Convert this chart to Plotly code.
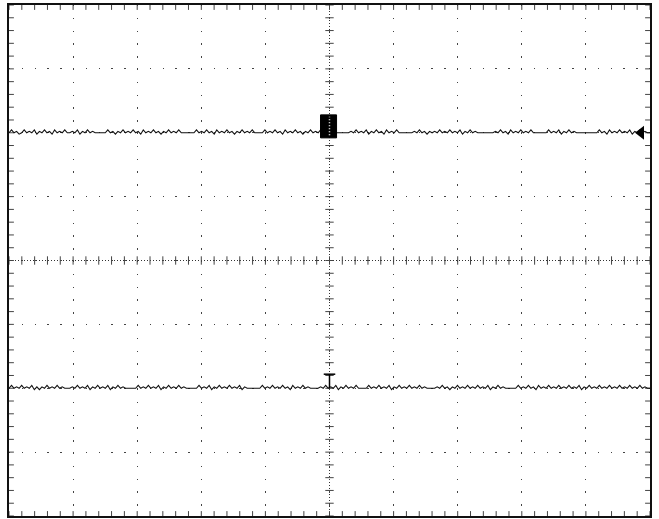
import numpy as np
import plotly.graph_objects as go

# Screen: 10 horizontal divisions, 8 vertical divisions
X_DIVS = 10
Y_DIVS = 8
MINOR = 0.2

# Channel levels (divisions)
ch1_level = 2.0
ch2_level = -2.0
LSB = 0.022  # one noise step in divisions

# Noise, one char per sample: 0=-1, 1=base, 2=+1, 3=+2 steps
ch1_noise = (
    "1312013121302131203121311213021312111113120213121312031213"
    "1202131213111111312131203121312021312131111312131203121312"
    "0213121311111111111213121302131203121311111121312021213121"
    "3121302131211111112131203121312131111113121302131211111111"
    "1312031213121302131211"
)
ch2_noise = (
    "1312131213020213121312111213121302131213021312111113121312"
    "1302131213121111131213021312131213021111113121312131203121"
    "3121111213121302131213111131213121302131213121312111121312"
    "0213121312131213021312111113121312031213121312131213021312"
    "1312131213121312131211"
)

ch1 = [ch1_level + (int(c) - 1) * LSB for c in ch1_noise]
ch2 = [ch2_level + (int(c) - 1) * LSB for c in ch2_noise]
t1 = np.linspace(0, X_DIVS, len(ch1))
t2 = np.linspace(0, X_DIVS, len(ch2))

fig = go.Figure()

# graticule minor ticks: center cross and border
cx = X_DIVS / 2
tick_x = np.arange(0, X_DIVS + 1e-9, MINOR)
tick_y = np.arange(-Y_DIVS / 2, Y_DIVS / 2 + 1e-9, MINOR)
tick_style = dict(width=1, color="#444")
fig.add_trace(go.Scatter(x=tick_x, y=np.zeros_like(tick_x), mode="markers",
                         marker=dict(symbol="line-ns", size=6, line=tick_style),
                         hoverinfo="skip", showlegend=False))
fig.add_trace(go.Scatter(x=np.full_like(tick_y, cx), y=tick_y, mode="markers",
                         marker=dict(symbol="line-ew", size=6, line=tick_style),
                         hoverinfo="skip", showlegend=False))
for yb in (-Y_DIVS / 2, Y_DIVS / 2):
    fig.add_trace(go.Scatter(x=tick_x, y=np.full_like(tick_x, yb), mode="markers",
                             marker=dict(symbol="line-ns", size=7, line=tick_style),
                             hoverinfo="skip", showlegend=False, cliponaxis=True))
for xb in (0, X_DIVS):
    fig.add_trace(go.Scatter(x=np.full_like(tick_y, xb), y=tick_y, mode="markers",
                             marker=dict(symbol="line-ew", size=7, line=tick_style),
                             hoverinfo="skip", showlegend=False, cliponaxis=True))

fig.add_trace(go.Scatter(x=t1, y=ch1, mode="lines", line=dict(color="#111", width=1.1),
                         showlegend=False, hoverinfo="skip"))
fig.add_trace(go.Scatter(x=t2, y=ch2, mode="lines", line=dict(color="#111", width=1.1),
                         showlegend=False, hoverinfo="skip"))

# channel 1 level arrow on right edge
fig.add_trace(go.Scatter(x=[9.86], y=[ch1_level], mode="markers",
                         marker=dict(symbol="triangle-left", size=12, color="black"),
                         showlegend=False, hoverinfo="skip"))

shapes = [
    # dotted center lines
    dict(type="line", x0=cx, x1=cx, y0=-Y_DIVS / 2, y1=Y_DIVS / 2,
         line=dict(color="#333", width=1, dash="1px,2px"), layer="below"),
    dict(type="line", x0=0, x1=X_DIVS, y0=0, y1=0,
         line=dict(color="#333", width=1, dash="1px,2px"), layer="below"),
    # trigger-position box on ch1
    dict(type="rect", x0=4.86, x1=5.11, y0=1.92, y1=2.28,
         fillcolor="black", line=dict(color="black", width=1)),
    dict(type="line", x0=cx, x1=cx, y0=1.96, y1=2.25,
         line=dict(color="white", width=1.5, dash="1px,2px")),
    # trigger level "T" on ch2
    dict(type="line", x0=4.91, x1=5.09, y0=-1.78, y1=-1.78,
         line=dict(color="black", width=1.5)),
    dict(type="line", x0=cx, x1=cx, y0=-1.78, y1=ch2_level,
         line=dict(color="black", width=1.5)),
]

axis_common = dict(
    showticklabels=False, ticks="", showline=True, linecolor="#111", linewidth=1.5,
    mirror=True, showgrid=True, gridcolor="#444", gridwidth=1.3, zeroline=False, dtick=1,
)

fig.update_layout(
    width=659, height=519,
    margin=dict(l=9, r=9, t=5, b=3),
    paper_bgcolor="white", plot_bgcolor="white",
    xaxis=dict(range=[0, X_DIVS], griddash="1.3px,11.5px", tick0=0, **axis_common),
    yaxis=dict(range=[-Y_DIVS / 2, Y_DIVS / 2], griddash="1.3px,11.5px", tick0=0, **axis_common),
    shapes=shapes,
)

fig.write_html("out.html", config={"displayModeBar": False},
               post_script="document.body.style.margin='0';document.body.style.overflow='hidden';")
